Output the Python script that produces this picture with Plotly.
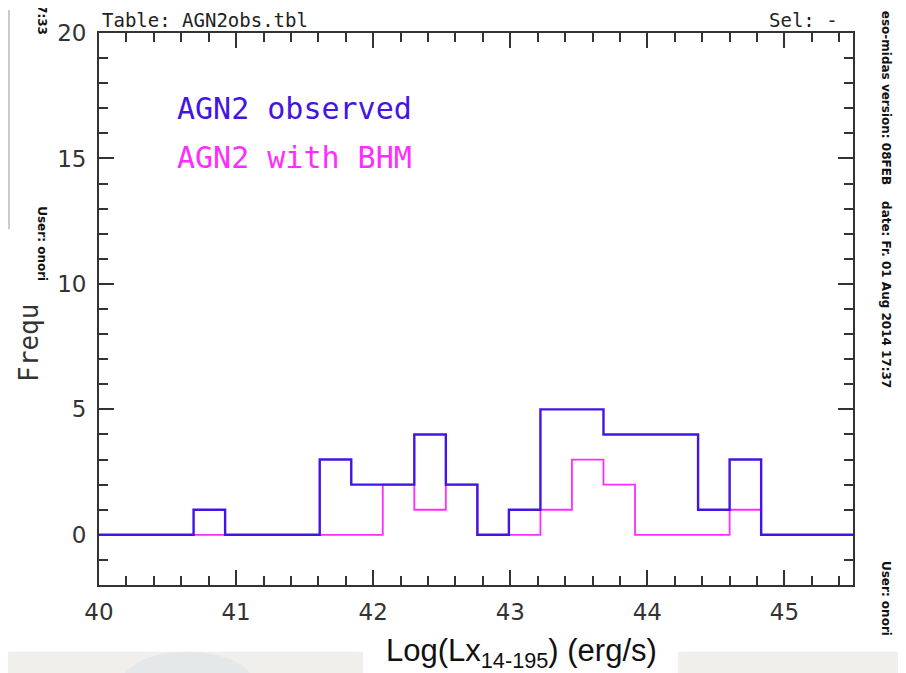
import plotly.graph_objects as go

# ---- data ----
bin_edges = [40.00, 40.23, 40.46, 40.69, 40.92, 41.15, 41.38, 41.61, 41.84, 42.07,
             42.30, 42.53, 42.76, 42.99, 43.22, 43.45, 43.68, 43.91, 44.14, 44.37,
             44.60, 44.83, 45.06, 45.29, 45.52]
observed = [0, 0, 0, 1, 0, 0, 0, 3, 2, 2, 4, 2, 0, 1, 5, 5, 4, 4, 4, 1, 3, 0, 0, 0]
with_bhm = [0, 0, 0, 0, 0, 0, 0, 0, 0, 2, 1, 2, 0, 0, 1, 3, 2, 0, 0, 0, 1, 0, 0, 0]
x_ticks = [40, 41, 42, 43, 44, 45]
y_ticks = [0, 5, 10, 15, 20]

BLUE = "#4414e4"
MAGENTA = "#ff2cff"
AXC = "#333333"

# page is offset by the 8px body margin
OFF = 8
W, H = 906 - OFF, 673 - OFF
L, R, T, B = 99, 853, 31, 585   # plot area in screen pixels


def px(x):
    return (x - L) / (R - L)


def py(y):
    return (B - y) / (B - T)


fig = go.Figure()
fig.add_trace(go.Scatter(x=bin_edges, y=with_bhm + [with_bhm[-1]], mode="lines",
                         line=dict(shape="hv", color=MAGENTA, width=1.8),
                         showlegend=False, hoverinfo="skip"))
fig.add_trace(go.Scatter(x=bin_edges, y=observed + [observed[-1]], mode="lines",
                         line=dict(shape="hv", color=BLUE, width=2.4),
                         showlegend=False, hoverinfo="skip"))

axis_common = dict(showline=True, linecolor=AXC, linewidth=1.8, mirror="ticks",
                   ticks="inside", tickcolor=AXC, tickwidth=1.5, ticklen=15,
                   showgrid=False, zeroline=False, layer="below traces",
                   tickfont=dict(family="DejaVu Sans", size=23, color=AXC))

fig.update_xaxes(range=[40, 45.5], tickvals=x_ticks, ticktext=[str(v) for v in x_ticks],
                 minor=dict(dtick=0.2, tick0=40, ticks="inside", ticklen=9,
                            tickcolor=AXC, tickwidth=1.5, showgrid=False),
                 ticklabelstandoff=5, **axis_common)
fig.update_yaxes(range=[-2, 20], tickvals=y_ticks, ticktext=[str(v) for v in y_ticks],
                 minor=dict(dtick=1, tick0=0, ticks="inside", ticklen=9,
                            tickcolor=AXC, tickwidth=1.5, showgrid=False),
                 ticklabelstandoff=6, **axis_common)

ann = []
mono = "DejaVu Sans Mono"
ann.append(dict(text="Table: AGN2obs.tbl", x=px(100), y=py(18), xanchor="left", yanchor="middle",
                font=dict(family=mono, size=19, color="#222")))
ann.append(dict(text="Sel: -", x=px(840), y=py(18), xanchor="right", yanchor="middle",
                font=dict(family=mono, size=19, color="#222")))
ann.append(dict(text="AGN2 observed", x=px(175), y=py(107), xanchor="left", yanchor="middle",
                font=dict(family=mono, size=30, color=BLUE)))
ann.append(dict(text="AGN2 with BHM", x=px(175), y=py(156), xanchor="left", yanchor="middle",
                font=dict(family=mono, size=30, color=MAGENTA)))
ann.append(dict(text="Frequ", x=px(29), y=py(342), xanchor="center", yanchor="middle",
                textangle=-90, font=dict(family=mono, size=26, color=AXC)))
ann.append(dict(text="Log(Lx<sub>14-195</sub>) (erg/s)", x=px(521), y=py(653),
                xanchor="center", yanchor="middle",
                font=dict(family="Liberation Sans", size=31, color="#111")))
small = dict(family="DejaVu Sans", size=12, color="#111", weight="bold")
ann.append(dict(text="eso-midas version: 08FEB", x=px(886), y=py(96), textangle=90,
                xanchor="center", yanchor="middle", font=small))
ann.append(dict(text="date: Fr. 01 Aug 2014 17:37", x=px(886), y=py(293), textangle=90,
                xanchor="center", yanchor="middle", font=small))
ann.append(dict(text="User: onori", x=px(886), y=py(598), textangle=90,
                xanchor="center", yanchor="middle", font=small))
ann.append(dict(text="User: onori", x=px(42), y=py(242), textangle=90,
                xanchor="center", yanchor="middle", font=small))
ann.append(dict(text="7:33", x=px(42), y=py(18), textangle=90,
                xanchor="center", yanchor="middle", font=small))
for a in ann:
    a.update(xref="paper", yref="paper", showarrow=False)

shapes = [
    dict(type="rect", xref="paper", yref="paper", x0=px(0), x1=px(363), y0=py(652), y1=py(690),
         fillcolor="#f0efeb", line=dict(width=0), layer="below"),
    dict(type="rect", xref="paper", yref="paper", x0=px(678), x1=px(915), y0=py(652), y1=py(690),
         fillcolor="#f0efeb", line=dict(width=0), layer="below"),
    dict(type="circle", xref="paper", yref="paper", x0=px(120), x1=px(255), y0=py(652), y1=py(720),
         fillcolor="rgba(215,225,230,0.45)", line=dict(width=0), layer="below"),
    dict(type="line", xref="paper", yref="paper", x0=px(9), x1=px(9), y0=py(8), y1=py(228),
         line=dict(color="#bbbbbb", width=1.5)),
]

fig.update_layout(width=W, height=H, margin=dict(l=L - OFF, r=906 - R, t=T - OFF, b=673 - B),
                  paper_bgcolor="white", plot_bgcolor="white",
                  annotations=ann, shapes=shapes, showlegend=False)
fig.write_html("out.html")
